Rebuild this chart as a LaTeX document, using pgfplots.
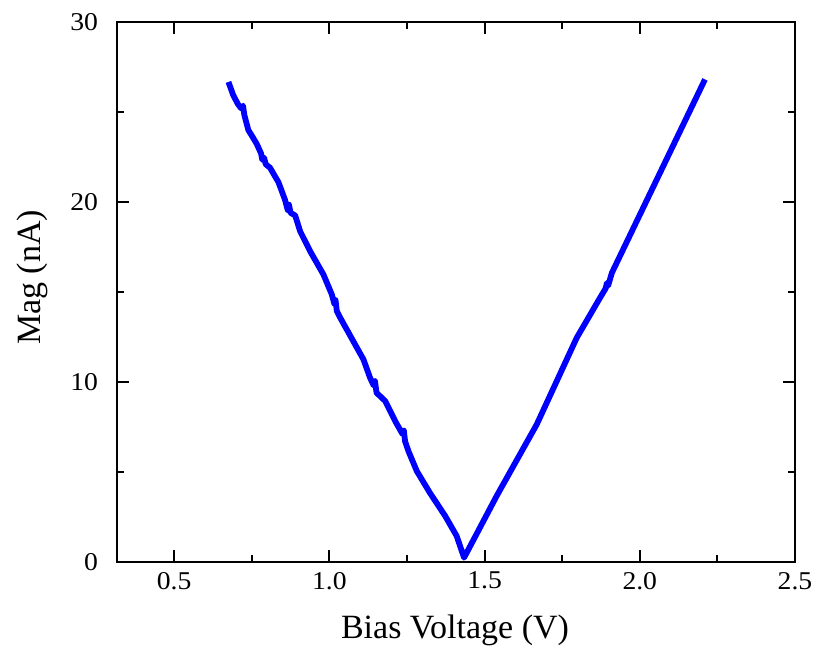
\documentclass[border=0pt]{standalone}
\usepackage{fontspec}
\setmainfont{Liberation Serif}
\newfontfamily\tickfont[FakeStretch=1.08]{Liberation Serif}
\usepackage{pgfplots}
\pgfplotsset{compat=1.18}
\begin{document}
\begin{tikzpicture}
\begin{axis}[
  at={(0,0)}, anchor=south west,
  width=339pt, height=270pt, scale only axis,
  xmin=0.316, xmax=2.5, ymin=0, ymax=30,
  xtick={0.5,1.0,1.5,2.0,2.5},
  ytick={0,10,20,30},
  minor x tick num=1, minor y tick num=1,
  tick align=inside,
  major tick length=6pt, minor tick length=3.5pt,
  axis line style={line width=1pt},
  every tick/.style={black, line width=1pt},
  /pgf/number format/assume math mode=true,
  x tick label style={/pgf/number format/.cd, fixed, fixed zerofill, precision=1, /tikz/.cd, yshift=-1.5pt},
  y tick label style={xshift=-6pt},
  tick label style={font=\tickfont\fontsize{12.8}{15}\selectfont},
  xlabel={Bias Voltage (V)}, ylabel={Mag (nA)},
  label style={font=\fontsize{17}{20}\selectfont},
  xlabel style={at={(axis description cs:0.4985,-0.1413)}, anchor=base},
  ylabel style={at={(axis description cs:-0.1246,0.527)}, anchor=center},
]
\addplot[blue, line width=2.9pt, line join=round] table {
x y
0.675 26.67
0.690 25.95
0.705 25.45
0.716 25.20
0.722 25.35
0.726 24.85
0.739 24.00
0.755 23.55
0.766 23.23
0.780 22.70
0.784 22.35
0.790 22.45
0.795 22.10
0.809 21.90
0.836 21.10
0.857 20.13
0.866 19.55
0.870 19.85
0.875 19.40
0.890 19.25
0.906 18.37
0.938 17.27
0.981 15.97
1.008 14.86
1.016 14.35
1.020 14.55
1.024 13.95
1.035 13.57
1.077 12.27
1.110 11.25
1.131 10.24
1.143 9.80
1.147 10.05
1.152 9.40
1.180 8.94
1.212 7.83
1.236 7.10
1.240 7.30
1.244 6.70
1.255 6.15
1.282 5.04
1.324 3.84
1.373 2.56
1.410 1.45
1.434 0.24
1.539 3.67
1.668 7.64
1.797 12.46
1.872 14.68
1.890 15.20
1.894 15.50
1.898 15.35
1.910 16.06
2.210 26.81
};
\end{axis}
\pgfresetboundingbox
\path[use as bounding box] (-58.5pt,-44.5pt) rectangle (350pt,281pt);
\end{tikzpicture}
\end{document}
